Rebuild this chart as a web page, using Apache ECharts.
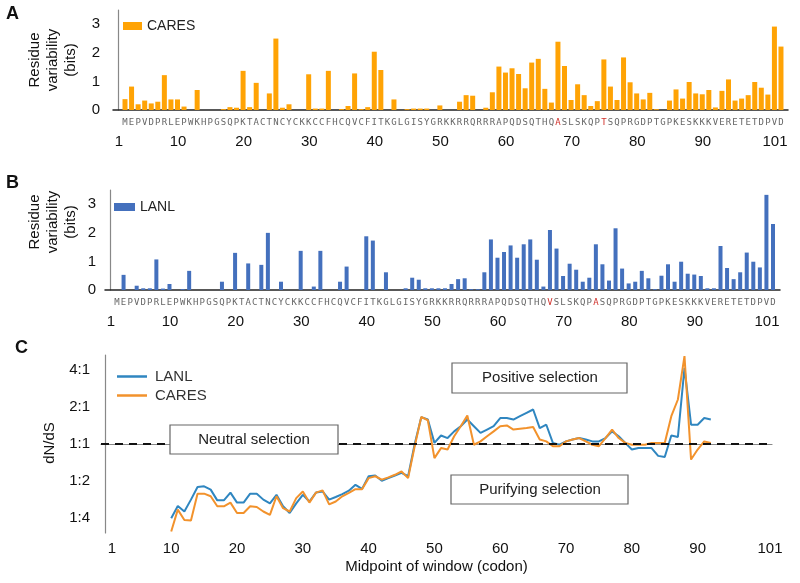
<!DOCTYPE html>
<html><head><meta charset="utf-8">
<script src="https://cdn.jsdelivr.net/npm/echarts@6/dist/echarts.min.js"></script>
<style>html,body{margin:0;padding:0;background:#fff}#c{width:800px;height:583px}</style>
</head><body><div id="c"></div>
<script>
// ---------- data ----------
const residues = [1,2,3,4,5,6,7,8,9,10,11,12,13,14,15,16,17,18,19,20,21,22,23,24,25,26,27,28,29,30,31,32,33,34,35,36,37,38,39,40,41,42,43,44,45,46,47,48,49,50,51,52,53,54,55,56,57,58,59,60,61,62,63,64,65,66,67,68,69,70,71,72,73,74,75,76,77,78,79,80,81,82,83,84,85,86,87,88,89,90,91,92,93,94,95,96,97,98,99,100,101];
const seqCARES = "MEPVDPRLEPWKHPGSQPKTACTNCYCKKCCFHCQVCFITKGLGISYGRKKRRQRRRAPQDSQTHQASLSKQPTSQPRGDPTGPKESKKKVERETETDPVD";
const seqLANL  = "MEPVDPRLEPWKHPGSQPKTACTNCYCKKCCFHCQVCFITKGLGISYGRKKRRQRRRAPQDSQTHQVSLSKQPASQPRGDPTGPKESKKKVERETETDPVD";
const redPositions = [67, 74];
const caresBits = [0.38,0.82,0.2,0.33,0.23,0.29,1.22,0.37,0.37,0.12,0,0.7,0,0,0,0.03,0.1,0.08,1.37,0.1,
  0.95,0,0.58,2.5,0.08,0.2,0,0,1.25,0.05,0.05,1.37,0,0.03,0.14,1.28,0.03,0.1,2.04,1.4,
  0,0.37,0,0.03,0.05,0.05,0.05,0,0.16,0,0,0.29,0.52,0.5,0,0.08,0.62,1.52,1.31,1.46,
  1.26,0.76,1.66,1.79,0.74,0.26,2.39,1.54,0.35,0.9,0.52,0.14,0.31,1.77,0.82,0.35,1.84,0.97,0.58,0.37,
  0.6,0.03,0,0.33,0.72,0.4,0.98,0.58,0.55,0.7,0.09,0.67,1.07,0.33,0.4,0.52,0.98,0.78,0.54,2.92,2.22];
const lanlBits = [0,0.53,0,0.15,0.06,0.06,1.07,0.05,0.21,0,0.03,0.67,0,0,0,0,0.29,0,1.3,0,
  0.93,0,0.88,2.0,0,0.29,0,0,1.37,0,0.12,1.37,0,0,0.29,0.82,0,0,1.88,1.73,
  0,0.62,0,0,0.06,0.43,0.36,0.06,0.06,0.06,0.06,0.21,0.38,0.41,0.03,0.03,0.62,1.77,1.13,1.33,
  1.56,1.13,1.6,1.77,1.06,0.12,2.1,1.45,0.49,0.92,0.71,0.29,0.43,1.6,0.9,0.33,2.16,0.75,0.23,0.29,
  0.67,0.41,0.03,0.5,0.9,0.29,0.99,0.57,0.54,0.49,0.06,0.06,1.54,0.77,0.38,0.62,1.31,0.99,0.79,3.33,2.31];
const numberTicks = [1,10,20,30,40,50,60,70,80,90,101];
const bitTicks = [0,1,2,3];
const windowMid = [10,11,12,13,14,15,16,17,18,19,20,21,22,23,24,25,26,27,28,29,30,31,32,33,34,35,36,37,38,39,40,41,42,43,44,45,46,47,48,49,50,51,52,53,54,55,56,57,58,59,60,61,62,63,64,65,66,67,68,69,70,71,72,73,74,75,76,77,78,79,80,81,82,83,84,85,86,87,88,89,90,91,92];
// log2(dN/dS)
const lanlRatio = [-2.0,-1.67,-1.82,-1.5,-1.16,-1.14,-1.23,-1.52,-1.52,-1.31,-1.58,-1.58,-1.34,-1.34,-1.5,-1.6,-1.37,-1.68,-1.86,-1.6,
  -1.37,-1.55,-1.31,-1.28,-1.5,-1.43,-1.35,-1.26,-1.1,-1.21,-0.87,-0.85,-0.99,-0.92,-0.85,-0.78,-0.87,0.0,0.72,0.66,
  0.03,0.23,0.16,0.34,0.48,0.66,0.48,0.3,0.39,0.48,0.7,0.7,0.66,0.75,0.84,0.93,0.43,0.52,0.03,-0.02,
  0.07,0.12,0.16,0.12,0.07,0.07,0.16,0.34,0.21,0.03,-0.15,-0.11,-0.11,-0.11,-0.32,-0.35,0.23,0.19,2.05,0.52,
  0.52,0.7,0.66];
const caresRatio = [-2.36,-1.77,-2.05,-2.06,-1.34,-1.34,-1.41,-1.68,-1.68,-1.58,-1.86,-1.86,-1.68,-1.7,-1.82,-1.91,-1.41,-1.73,-1.82,-1.46,
  -1.28,-1.58,-1.31,-1.25,-1.63,-1.55,-1.41,-1.32,-1.22,-1.22,-0.92,-0.87,-0.96,-0.9,-0.83,-0.74,-0.92,-0.06,0.73,0.64,
  -0.38,-0.11,-0.15,0.21,0.48,0.77,-0.02,0.07,0.21,0.34,0.48,0.5,0.39,0.41,0.43,0.46,0.12,0.07,-0.06,-0.06,
  0.07,0.12,0.16,0.07,-0.02,-0.06,0.16,0.39,0.16,0.03,-0.02,-0.02,-0.02,0.03,0.03,0.03,0.75,1.2,2.37,-0.42,
  -0.15,0.07,0.03];
const ratioTicks = [-2,-1,0,1,2];
const ratioLabels = ['1:4','1:2','1:1','2:1','4:1'];

// ---------- chart ----------
const FONT = 'Liberation Sans, Arial, sans-serif';
const MONO = 'DejaVu Sans Mono, monospace';
const pair = (xs, ys) => xs.map((x, i) => [x, ys[i]]);
function seqFormatter(seq) {
  return v => {
    const ch = seq[v - 1] || '';
    return redPositions.indexOf(v) >= 0 ? '{r|' + ch + '}' : ch;
  };
}
const letterLabel = seq => ({
  customValues: residues, formatter: seqFormatter(seq), fontSize: 9, fontFamily: MONO,
  color: '#666', margin: 8,
  rich: { r: { color: '#d0302a', fontSize: 9, fontFamily: MONO } }
});
const numLabel = margin => ({ customValues: numberTicks, fontSize: 15, fontFamily: FONT, color: '#111', margin: margin });
const noSplit = { show: false };
const noTick = { show: false };
const boxText = (x, y, t) => ({ type: 'text', x: x, y: y, z: 101,
  style: { text: t, font: '15px ' + FONT, fill: '#222', align: 'center', verticalAlign: 'middle' } });
const boxRect = (x, y, w, h) => ({ type: 'rect', z: 100, shape: { x: x, y: y, width: w, height: h },
  style: { fill: '#fff', stroke: '#666', lineWidth: 1.2 } });

const chart = echarts.init(document.getElementById('c'), null, { renderer: 'canvas' });
chart.setOption({
  animation: false,
  backgroundColor: '#fff',
  textStyle: { fontFamily: FONT },
  grid: [
    { left: 113, top: 10, width: 675, height: 100 },
    { left: 105, top: 190, width: 675, height: 100 },
    { left: 101, top: 355, width: 671, height: 178 }
  ],
  xAxis: [
    { gridIndex: 0, type: 'value', position: 'bottom', min: -0.83, max: 102.07, axisLine: { lineStyle: { color: '#222', width: 1.5 } },
      axisTick: noTick, splitLine: noSplit, axisLabel: letterLabel(seqCARES) },
    { gridIndex: 0, type: 'value', position: 'bottom', min: 0.085, max: 102.985, axisLine: { show: false }, axisTick: noTick,
      splitLine: noSplit, axisLabel: numLabel(24) },
    { gridIndex: 1, type: 'value', position: 'bottom', min: -0.83, max: 102.07, axisLine: { lineStyle: { color: '#222', width: 1.5 } },
      axisTick: noTick, splitLine: noSplit, axisLabel: letterLabel(seqLANL) },
    { gridIndex: 1, type: 'value', position: 'bottom', min: 0.085, max: 102.985, axisLine: { show: false }, axisTick: noTick,
      splitLine: noSplit, axisLabel: numLabel(24) },
    { gridIndex: 2, type: 'value', position: 'bottom', min: -0.67, max: 101.3, axisLine: { lineStyle: { color: '#888', width: 1.2 } },
      axisTick: noTick, splitLine: noSplit, axisLabel: numLabel(8),
      name: 'Midpoint of window (codon)', nameLocation: 'middle', nameGap: 26,
      nameTextStyle: { fontSize: 15, color: '#111', fontFamily: FONT } }
  ],
  yAxis: [
    { gridIndex: 0, type: 'value', min: 0, max: 3.5, axisLine: { show: true, lineStyle: { color: '#888', width: 1.2 } },
      axisTick: noTick, splitLine: noSplit,
      axisLabel: { customValues: bitTicks, fontSize: 15, color: '#111', margin: 13, padding: [0, 0, 8, 0] } },
    { gridIndex: 1, type: 'value', min: 0, max: 3.5, axisLine: { show: true, lineStyle: { color: '#888', width: 1.2 } },
      axisTick: noTick, splitLine: noSplit,
      axisLabel: { customValues: bitTicks, fontSize: 15, color: '#111', margin: 9, padding: [0, 0, 8, 0] } },
    { gridIndex: 2, type: 'value', min: -2.4, max: 2.4, axisLine: { show: true, lineStyle: { color: '#888', width: 1.2 } },
      axisTick: noTick, splitLine: noSplit,
      axisLabel: { customValues: ratioTicks, fontSize: 15, color: '#111', margin: 11,
        formatter: v => ratioLabels[ratioTicks.indexOf(Math.round(v))] } }
  ],
  legend: [
    { data: ['CARES'], left: 118, top: 14, icon: 'rect', itemWidth: 19, itemHeight: 8, itemGap: 4,
      textStyle: { fontSize: 14, color: '#222' }, selectedMode: false },
    { data: ['LANL'], left: 109, top: 195, icon: 'rect', itemWidth: 21, itemHeight: 8,
      textStyle: { fontSize: 14, color: '#222' }, selectedMode: false },
    { data: ['LANL line', 'CARES line'], left: 112, top: 364, orient: 'vertical', icon: 'rect', itemWidth: 30, itemHeight: 2.5,
      itemGap: 4, formatter: n => n.replace(' line', ''), textStyle: { fontSize: 15, color: '#333', padding: [0, 0, 0, 3] }, selectedMode: false }
  ],
  series: [
    { name: 'CARES', type: 'bar', xAxisIndex: 0, yAxisIndex: 0, barWidth: 5,
      itemStyle: { color: '#ffa305' }, data: pair(residues, caresBits) },
    { name: 'LANL', type: 'bar', xAxisIndex: 2, yAxisIndex: 1, barWidth: 4,
      itemStyle: { color: '#4470bd' }, data: pair(residues, lanlBits) },
    { name: 'LANL line', type: 'line', xAxisIndex: 4, yAxisIndex: 2, symbol: 'none', color: '#2f86c0',
      lineStyle: { width: 2, color: '#2f86c0' }, data: pair(windowMid, lanlRatio),
      markLine: { silent: true, symbol: 'none', label: { show: false },
        lineStyle: { color: '#111', type: [8, 6], width: 2 }, data: [{ yAxis: 0 }] } },
    { name: 'CARES line', type: 'line', xAxisIndex: 4, yAxisIndex: 2, symbol: 'none', color: '#f2922c',
      lineStyle: { width: 2, color: '#f2922c' }, data: pair(windowMid, caresRatio) }
  ],
  graphic: [
    { type: 'text', left: 6, top: 5, style: { text: 'A', font: 'bold 18px ' + FONT, fill: '#111' } },
    { type: 'text', left: 6, top: 174, style: { text: 'B', font: 'bold 18px ' + FONT, fill: '#111' } },
    { type: 'text', left: 15, top: 339, style: { text: 'C', font: 'bold 18px ' + FONT, fill: '#111' } },
    { type: 'text', x: 53, y: 60, rotation: Math.PI / 2,
      style: { text: 'Residue\nvariability\n(bits)', font: '15px ' + FONT, fill: '#111', align: 'center', verticalAlign: 'middle', lineHeight: 18 } },
    { type: 'text', x: 53, y: 222, rotation: Math.PI / 2,
      style: { text: 'Residue\nvariability\n(bits)', font: '15px ' + FONT, fill: '#111', align: 'center', verticalAlign: 'middle', lineHeight: 18 } },
    { type: 'text', x: 50, y: 443, rotation: Math.PI / 2,
      style: { text: 'dN/dS', font: '15px ' + FONT, fill: '#111', align: 'center', verticalAlign: 'middle' } },
    boxRect(170, 425, 168, 29), boxText(254, 440, 'Neutral selection'),
    boxRect(452, 363, 175, 30), boxText(540, 378, 'Positive selection'),
    boxRect(451, 475, 177, 29), boxText(540, 490, 'Purifying selection')
  ]
});
</script>
</body></html>
